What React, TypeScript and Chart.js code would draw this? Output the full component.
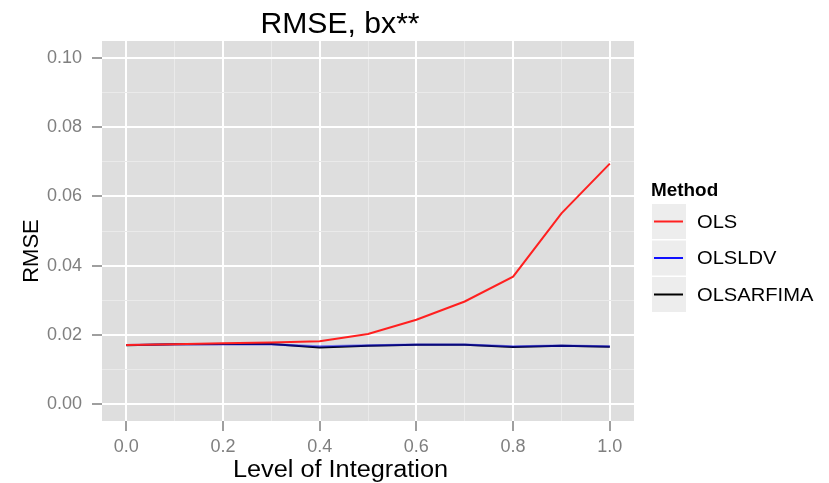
import React, { useEffect, useRef } from "react";
import { Chart, registerables } from "chart.js";

Chart.register(...registerables);

// ---- data ----
const levels = [0.0, 0.1, 0.2, 0.3, 0.4, 0.5, 0.6, 0.7, 0.8, 0.9, 1.0];
const olsValues = [0.0170, 0.0172, 0.0175, 0.0177, 0.0181, 0.0202, 0.0243, 0.0296, 0.0368, 0.0551, 0.0695];
const olsldvValues = [0.0170, 0.0172, 0.0172, 0.0172, 0.0166, 0.0169, 0.0171, 0.0171, 0.0166, 0.0168, 0.0166];
const olsarfimaValues = [0.0169, 0.0172, 0.0173, 0.0173, 0.0163, 0.0168, 0.0171, 0.0171, 0.0164, 0.0168, 0.0165];

const seriesNames = ["OLS", "OLSLDV", "OLSARFIMA"];
const seriesColors = ["#FF2020", "#1010FF", "#000000"];

const xMajorTicks = [0.0, 0.2, 0.4, 0.6, 0.8, 1.0];
const xMinorTicks = [0.1, 0.3, 0.5, 0.7, 0.9];
const yMajorTicks = [0.0, 0.02, 0.04, 0.06, 0.08, 0.1];
const yMinorTicks = [0.01, 0.03, 0.05, 0.07, 0.09];

const titleText = "RMSE, bx**";
const xTitle = "Level of Integration";
const yTitle = "RMSE";
const legendTitle = "Method";

const FONT = "'Liberation Sans', Arial, Helvetica, sans-serif";
const PANEL_BG = "#DEDEDE";
const MINOR_GRID = "#EAEAEA";
const TICK_GRAY = "#7F7F7F";

const isIn = (arr: number[], v: number) => arr.some((a) => Math.abs(a - v) < 1e-9);

const panelBg = {
  id: "panelBg",
  beforeDraw(chart: any) {
    const { ctx, chartArea } = chart;
    ctx.save();
    ctx.fillStyle = PANEL_BG;
    ctx.fillRect(chartArea.left, chartArea.top, chartArea.right - chartArea.left, chartArea.bottom - chartArea.top);
    ctx.restore();
  },
};

function stretchedText(ctx: any, text: string, x: number, y: number, sx: number) {
  ctx.save();
  ctx.translate(x, y);
  ctx.scale(sx, 1);
  ctx.fillText(text, 0, 0);
  ctx.restore();
}

const annotations = {
  id: "annotations",
  afterDraw(chart: any) {
    const { ctx } = chart;
    ctx.save();
    // title
    ctx.fillStyle = "#000";
    ctx.textAlign = "center";
    ctx.textBaseline = "alphabetic";
    ctx.font = `29px ${FONT}`;
    stretchedText(ctx, titleText, 340, 33, 1.04);
    // x title
    ctx.font = `23px ${FONT}`;
    stretchedText(ctx, xTitle, 340.5, 477, 1.1);
    // y title
    ctx.save();
    ctx.translate(37.5, 251);
    ctx.rotate(-Math.PI / 2);
    ctx.font = `22px ${FONT}`;
    ctx.fillText(yTitle, 0, 0);
    ctx.restore();
    // legend
    ctx.textAlign = "left";
    ctx.font = `bold 18px ${FONT}`;
    stretchedText(ctx, legendTitle, 651, 196, 1.05);
    ctx.font = `19px ${FONT}`;
    ctx.textBaseline = "middle";
    seriesNames.forEach((name, i) => {
      const top = 204 + i * 36.5;
      ctx.fillStyle = "#EDEDED";
      ctx.fillRect(652, top, 34, 35);
      const cy = top + 17.5;
      ctx.strokeStyle = seriesColors[i];
      ctx.lineWidth = 2;
      ctx.beginPath();
      ctx.moveTo(654, cy);
      ctx.lineTo(683, cy);
      ctx.stroke();
      ctx.fillStyle = "#000";
      stretchedText(ctx, name, 697, cy + 1, 1.06);
    });
    ctx.restore();
  },
};

export default function App() {
  const canvasRef = useRef<HTMLCanvasElement | null>(null);

  useEffect(() => {
    const canvas = canvasRef.current;
    if (!canvas) return;
    const mk = (vals: number[]) => levels.map((x, i) => ({ x, y: vals[i] }));
    const chart = new Chart(canvas, {
      type: "line",
      data: {
        datasets: [
          { label: seriesNames[0], data: mk(olsValues), borderColor: seriesColors[0], borderWidth: 2, pointRadius: 0, fill: false, tension: 0 },
          { label: seriesNames[1], data: mk(olsldvValues), borderColor: "rgba(16,16,255,0.5)", borderWidth: 2.2, pointRadius: 0, fill: false, tension: 0 },
          { label: seriesNames[2], data: mk(olsarfimaValues), borderColor: seriesColors[2], borderWidth: 2, pointRadius: 0, fill: false, tension: 0 },
        ],
      },
      options: {
        animation: false,
        responsive: false,
        devicePixelRatio: 1,
        layout: { padding: { left: 0, right: 195, top: 41, bottom: 0 } },
        plugins: { legend: { display: false }, title: { display: false }, tooltip: { enabled: false } },
        scales: {
          x: {
            type: "linear",
            min: -0.05,
            max: 1.05,
            afterBuildTicks: (s: any) => {
              s.ticks = [...xMajorTicks, ...xMinorTicks].sort((a, b) => a - b).map((v) => ({ value: v }));
            },
            afterFit: (s: any) => {
              s.height = 62;
            },
            border: { display: false },
            grid: {
              color: (c: any) => (isIn(xMajorTicks, c.tick.value) ? "#FFFFFF" : MINOR_GRID),
              lineWidth: (c: any) => (isIn(xMajorTicks, c.tick.value) ? 2 : 1),
              tickColor: (c: any) => (isIn(xMajorTicks, c.tick.value) ? TICK_GRAY : "rgba(0,0,0,0)"),
              tickLength: 10,
              tickWidth: 1.5,
              drawTicks: true,
            },
            ticks: {
              autoSkip: false,
              maxRotation: 0,
              padding: 5,
              color: TICK_GRAY,
              font: { family: FONT, size: 18 },
              callback: (v: any) => (isIn(xMajorTicks, Number(v)) ? Number(v).toFixed(1) : ""),
            },
          },
          y: {
            type: "linear",
            min: -0.005,
            max: 0.105,
            afterBuildTicks: (s: any) => {
              s.ticks = [...yMajorTicks, ...yMinorTicks].sort((a, b) => a - b).map((v) => ({ value: v }));
            },
            afterFit: (s: any) => {
              s.width = 102;
            },
            border: { display: false },
            grid: {
              color: (c: any) => (isIn(yMajorTicks, c.tick.value) ? "#FFFFFF" : MINOR_GRID),
              lineWidth: (c: any) => (isIn(yMajorTicks, c.tick.value) ? 2 : 1),
              tickColor: (c: any) => (isIn(yMajorTicks, c.tick.value) ? TICK_GRAY : "rgba(0,0,0,0)"),
              tickLength: 10,
              tickWidth: 1.5,
              drawTicks: true,
            },
            ticks: {
              autoSkip: false,
              padding: 10,
              color: TICK_GRAY,
              font: { family: FONT, size: 18 },
              callback: (v: any) => (isIn(yMajorTicks, Number(v)) ? Number(v).toFixed(2) : ""),
            },
          },
        },
      },
      plugins: [panelBg, annotations],
    });
    return () => chart.destroy();
  }, []);

  return (
    <div style={{ position: "fixed", left: 0, top: 0, width: 829, height: 483, background: "#fff" }}>
      <canvas ref={canvasRef} width={829} height={483} style={{ width: 829, height: 483, display: "block" }} />
    </div>
  );
}
